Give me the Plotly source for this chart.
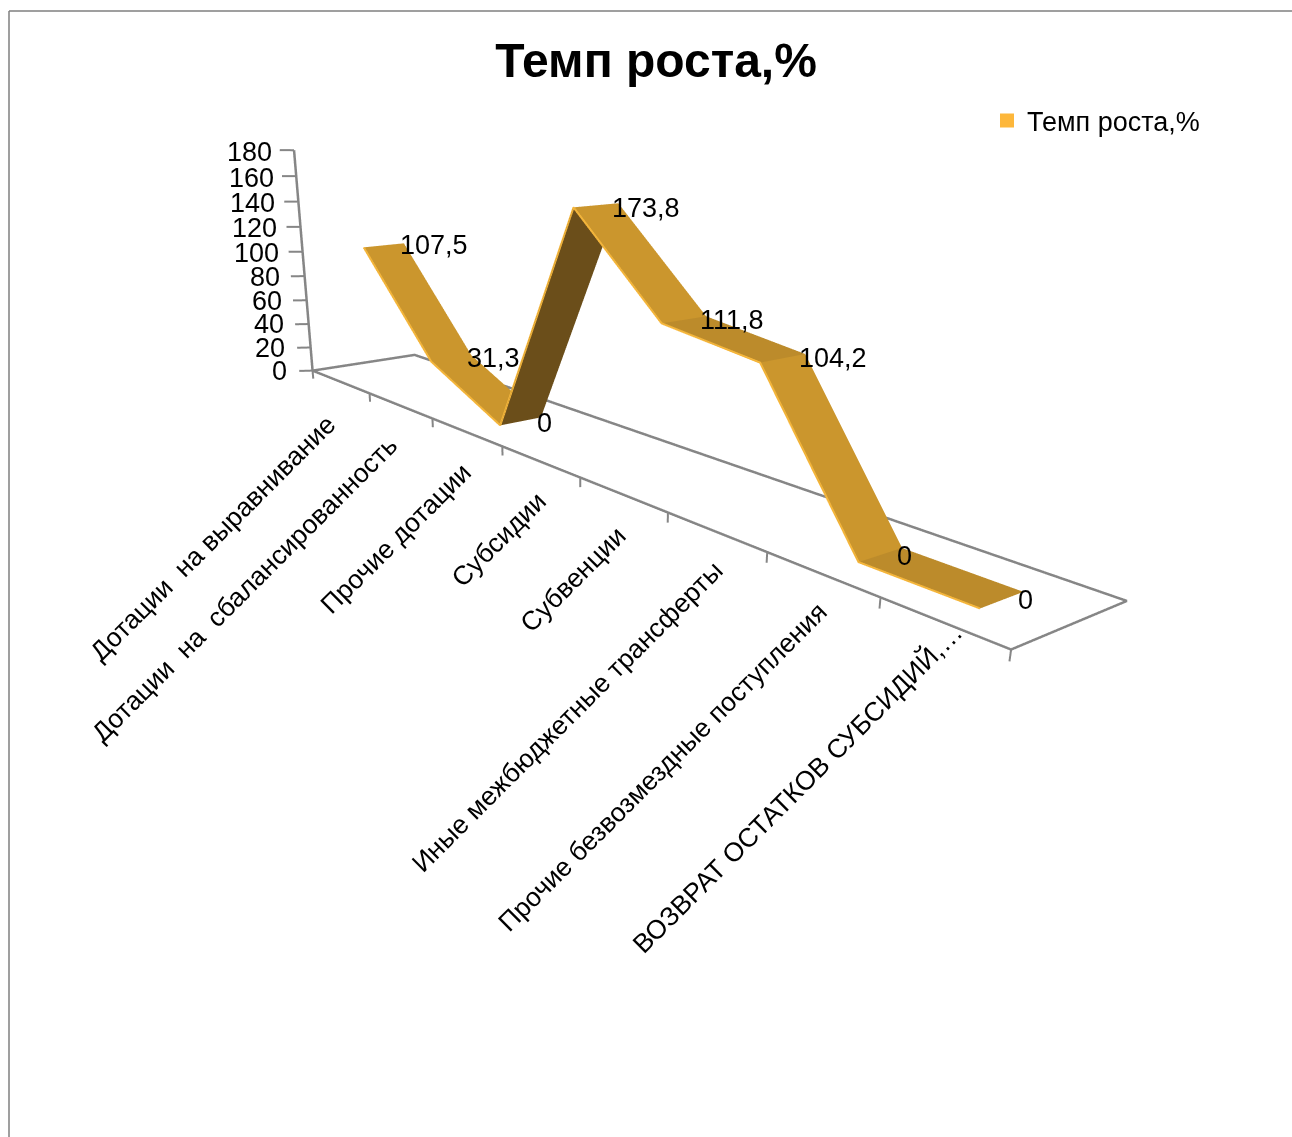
import plotly.graph_objects as go

categories = ["Дотации\u00a0\u00a0на выравнивание", "Дотации\u00a0\u00a0на\u00a0\u00a0сбалансированность", "Прочие дотации", "Субсидии", "Субвенции", "Иные межбюджетные трансферты", "Прочие безвозмездные поступления", "ВОЗВРАТ ОСТАТКОВ СУБСИДИЙ,…"]
values = [107.5, 31.3, 0, 173.8, 111.8, 104.2, 0, 0]
value_labels = ["107,5", "31,3", "0", "173,8", "111,8", "104,2", "0", "0"]
z_ticks = [0, 20, 40, 60, 80, 100, 120, 140, 160, 180]
series_name = "Темп роста,%"
segment_colors = ["#CB962D", "#CB962D", "#6B4E1A", "#CB962D", "#BC8B2B", "#CB962D", "#BC8B2B"]
label_dx = [4, 6, 14, 15, 12, 15, 14, 28]
label_dy = [-25, -22, -22, -21, -23, -21, -20, 8]
value_dy = [0, 0, -2, -3, 0, 0, -1, 0]

W, H = 1292, 1137
XR = (-0.4, 8.8); YR = (-0.3, 1.7); ZR = (-20.0, 190.0)
EYE = (3.1429, -3.0808, 1.137); CENTER = (2.7529, -2.675, 0.8905)
ASPECT = (3.7991, 0.9109, 1.0); UP = (-0.1583, 0.1142, 1.0)
T0, T1 = 0.2977, 0.6696
CX, CY, VH = 703.0, 568.5, 1137.0
SH, WD = 0.1206, 0.0788

VW = 2 * min(CX, W - CX)
dom = dict(x=[(CX - VW / 2) / W, (CX + VW / 2) / W], y=[1 - (CY + VH / 2) / H, 1 - (CY - VH / 2) / H])

def X(i, t):
    return i + SH * t

def Y(i, t):
    return t * (1 + WD * i / 8)

n = len(values)
xs, ys, zs = [], [], []
for i, v in enumerate(values):
    xs += [X(i + .5, T0), X(i + .5, T1)]
    ys += [Y(i + .5, T0), Y(i + .5, T1)]
    zs += [v, v]
I, J, K, FC = [], [], [], []
for i in range(n - 1):
    a, b, c, d = 2 * i, 2 * i + 1, 2 * i + 2, 2 * i + 3
    I += [a, b]; J += [b, d]; K += [c, c]
    FC += [segment_colors[i]] * 2

traces = [go.Mesh3d(x=xs, y=ys, z=zs, i=I, j=J, k=K, facecolor=FC, flatshading=True, showscale=False,
                    lighting=dict(ambient=1, diffuse=0, specular=0, fresnel=0, roughness=1),
                    hoverinfo="skip", showlegend=False)]
AX = "#868686"

def line(x, y, z, color=AX, w=5):
    return go.Scatter3d(x=x, y=y, z=z, mode="lines", line=dict(color=color, width=w), showlegend=False, hoverinfo="skip")

traces.append(line([X(0, 0), X(0, 1), X(8, 1), X(8, 0), X(0, 0)],
                   [Y(0, 0), Y(0, 1), Y(8, 1), Y(8, 0), Y(0, 0)], [0, 0, 0, 0, 0]))
traces.append(line([0, 0], [0, 0], [0, 180]))
for i in range(n + 1):
    traces.append(line([i, i], [0, 0], [0, -7], w=4))
for t in z_ticks:
    traces.append(line([0, -0.07], [0, -0.095], [t, t], w=4))
traces.append(line([X(i + .5, T0) for i in range(n)], [Y(i + .5, T0) for i in range(n)], values, "#F6B73C", 4))
traces.append(go.Scatter3d(x=[None], y=[None], z=[None], mode="markers", name=series_name,
                           marker=dict(symbol="square", size=14, color="#FDB73B")))

ann = []
F = "Liberation Sans"
for i, c in enumerate(categories):
    ann.append(dict(x=i + .5, y=0, z=0, text=c, showarrow=False, textangle=-45, xanchor="right", yanchor="top",
                    xshift=label_dx[i], yshift=label_dy[i], font=dict(family=F, size=26.5, color="#000")))
for t in z_ticks:
    ann.append(dict(x=0, y=0, z=t, text=str(t), showarrow=False, xanchor="right", yanchor="middle",
                    xshift=-24 + 4 * t / 180, yshift=-2 * t / 180, font=dict(family=F, size=27, color="#000")))
tm = (T0 + T1) / 2
for i, s in enumerate(value_labels):
    ann.append(dict(x=X(i + .5, tm), y=Y(i + .5, tm), z=values[i], text=s, showarrow=False, xanchor="left",
                    yanchor="middle", xshift=14, yshift=value_dy[i], font=dict(family=F, size=27, color="#000")))

fig = go.Figure(traces)
fig.update_layout(
    width=W, height=H, margin=dict(l=0, r=0, t=0, b=0), paper_bgcolor="white",
    title=dict(text=series_name, x=656 / W, xanchor="center", y=1 - 60 / H, yanchor="middle",
               font=dict(family=F, size=48, color="#000", weight="bold")),
    legend=dict(x=994 / W, y=1 - 121 / H, yanchor="middle", xanchor="left", indentation=-7,
                font=dict(family=F, size=27, color="#000"), bgcolor="rgba(0,0,0,0)"),
    showlegend=True,
    scene=dict(domain=dom,
               xaxis=dict(visible=False, range=list(XR)), yaxis=dict(visible=False, range=list(YR)),
               zaxis=dict(visible=False, range=list(ZR)),
               aspectmode="manual", aspectratio=dict(x=ASPECT[0], y=ASPECT[1], z=ASPECT[2]),
               camera=dict(eye=dict(x=EYE[0], y=EYE[1], z=EYE[2]), center=dict(x=CENTER[0], y=CENTER[1], z=CENTER[2]),
                           up=dict(x=UP[0], y=UP[1], z=UP[2]), projection=dict(type="perspective")),
               annotations=ann),
    shapes=[dict(type="line", xref="paper", yref="paper", x0=9 / W, x1=9 / W, y0=0, y1=1 - 11 / H, line=dict(color="#7F7F7F", width=1.5)),
            dict(type="line", xref="paper", yref="paper", x0=9 / W, x1=1, y0=1 - 11 / H, y1=1 - 11 / H, line=dict(color="#7F7F7F", width=1.5))])
fig.write_html("out.html", post_script="document.body.style.margin='0';", config={"displayModeBar": False})
